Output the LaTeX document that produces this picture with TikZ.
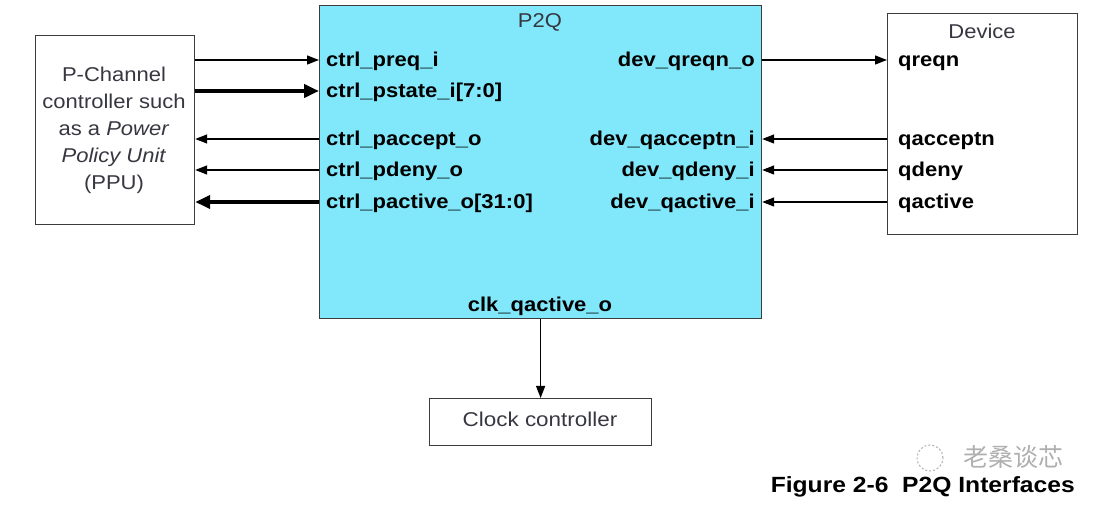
\documentclass[tikz,border=0pt]{standalone}
\usepackage{fontspec}
\setmainfont{Liberation Sans}
\newfontfamily\cjk{Noto Sans CJK SC}
\usetikzlibrary{arrows.meta}
\definecolor{p2qfill}{RGB}{128,232,250}
\definecolor{boxline}{RGB}{60,60,60}
\definecolor{titlegray}{RGB}{55,55,65}
\definecolor{wm}{RGB}{175,175,175}
\tikzset{
  blk/.style={draw=boxline, line width=1.2pt, inner sep=0pt, anchor=north west},
  sig/.style={font=\fontsize{20}{24}\selectfont\bfseries, inner sep=0pt, xscale=1.1},
  plain/.style={font=\fontsize{20}{24}\selectfont, text=titlegray, inner sep=0pt, xscale=1.1},
  thin/.style={line width=1.3pt, -{Triangle[length=12pt,width=9pt]}},
  thick/.style={line width=4pt, -{Triangle[length=15pt,width=13pt]}},
}
\begin{document}
\begin{tikzpicture}[x=1pt,y=-1pt]
\useasboundingbox (0,0) rectangle (1106,510);
% boxes
\node[blk, minimum width=159pt, minimum height=189pt] (ppu) at (35,35) {};
\node[plain, font=\fontsize{20}{27}\selectfont, align=center] (ppulbl) at (114,130)
  {P-Channel\\controller such\\as a \textit{Power}\\\textit{Policy Unit}\\(PPU)};
\node[blk, fill=p2qfill, minimum width=442pt, minimum height=313pt] (p2q) at (319,5) {};
\node[plain] (p2qt) at (540,22) {P2Q};
\node[blk, minimum width=190pt, minimum height=221pt] (dev) at (887,13) {};
\node[plain] (devt) at (982,31) {Device};
\node[blk, minimum width=222pt, minimum height=47pt] (clk) at (429,398) {};
\node[plain, xscale=1.02] (clkt) at (540,419) {Clock controller};

% left signal labels (baseline = arrow y + 7)
\node[sig, anchor=base west] (l1) at (326,67) {ctrl\_preq\_i};
\node[sig, anchor=base west] (l2) at (326,98) {ctrl\_pstate\_i[7:0]};
\node[sig, anchor=base west] (l3) at (326,146) {ctrl\_paccept\_o};
\node[sig, anchor=base west] (l4) at (326,177) {ctrl\_pdeny\_o};
\node[sig, anchor=base west] (l5) at (326,209) {ctrl\_pactive\_o[31:0]};
% right signal labels
\node[sig, anchor=base east] (r1) at (755,67) {dev\_qreqn\_o};
\node[sig, anchor=base east] (r3) at (755,146) {dev\_qacceptn\_i};
\node[sig, anchor=base east] (r4) at (755,177) {dev\_qdeny\_i};
\node[sig, anchor=base east] (r5) at (755,209) {dev\_qactive\_i};
% device labels
\node[sig, anchor=base west] (d1) at (898,67) {qreqn};
\node[sig, anchor=base west] (d3) at (898,146) {qacceptn};
\node[sig, anchor=base west] (d4) at (898,177) {qdeny};
\node[sig, anchor=base west] (d5) at (898,209) {qactive};
% bottom label
\node[sig, anchor=base] (ck) at (540,312) {clk\_qactive\_o};

% arrow rows
\coordinate (y1) at (0,60);
\coordinate (y2) at (0,91);
\coordinate (y3) at (0,139);
\coordinate (y4) at (0,170);
\coordinate (y5) at (0,202);

\draw[thin] (ppu.east |- y1) -- (p2q.west |- y1);
\draw[thick] (ppu.east |- y2) -- (p2q.west |- y2);
\draw[thin] (p2q.west |- y3) -- (ppu.east |- y3);
\draw[thin] (p2q.west |- y4) -- (ppu.east |- y4);
\draw[thick] (p2q.west |- y5) -- (ppu.east |- y5);

\draw[thin] (p2q.east |- y1) -- (dev.west |- y1);
\draw[thin] (dev.west |- y3) -- (p2q.east |- y3);
\draw[thin] (dev.west |- y4) -- (p2q.east |- y4);
\draw[thin] (dev.west |- y5) -- (p2q.east |- y5);

\draw[thin] (p2q.south -| clk.north) -- (clk.north);

% watermark and caption
\node[font=\cjk\fontsize{25}{28}\selectfont, text=wm, anchor=west, inner sep=0pt] (wmk) at (963,457) {老桑谈芯};
\draw[wm, line width=1pt, dash pattern=on 2pt off 2pt] (930,458) circle (13pt);
\node[font=\fontsize{22}{26}\selectfont\bfseries, anchor=base east, inner sep=0pt, xscale=1.12] (cap) at (1075,493) {Figure 2-6\ \ P2Q Interfaces};
\end{tikzpicture}
\end{document}
